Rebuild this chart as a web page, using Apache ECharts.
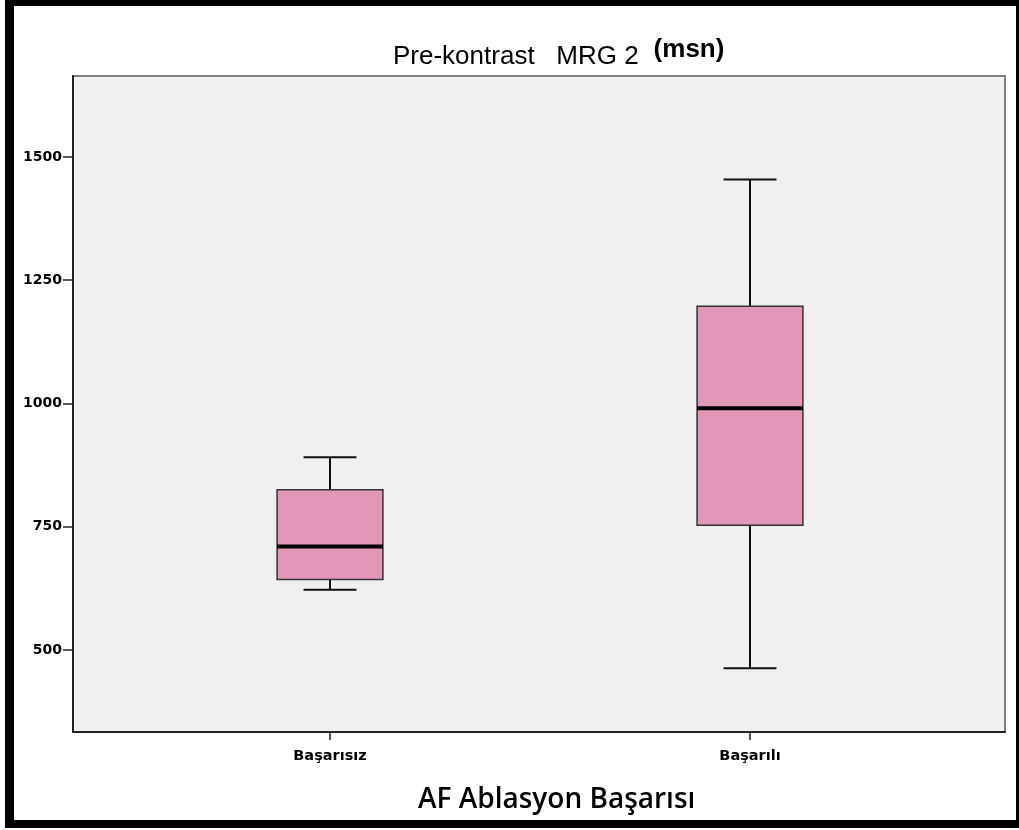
<!DOCTYPE html>
<html>
<head>
<meta charset="utf-8">
<script src="https://cdn.jsdelivr.net/npm/echarts@6/dist/echarts.min.js"></script>
<style>
  html, body { margin: 0; padding: 0; background: #ffffff; }
  #chart { position: absolute; left: 0; top: 0; width: 1019px; height: 830px; }
  #frame { position: absolute; left: 5px; top: 0; width: 1002px; height: 814px;
           border-style: solid; border-color: #000;
           border-width: 6px 3px 8px 9px; pointer-events: none; }
</style>
</head>
<body>
<div id="chart"></div>
<div id="frame"></div>
<script>
// ---- data ----
const categories = ['Başarısız', 'Başarılı'];
const minVals    = [622, 463];
const q1Vals     = [643, 753];
const medianVals = [710, 990];
const q3Vals     = [825, 1197];
const maxVals    = [891, 1454];
const yTickValues = [500, 750, 1000, 1250, 1500];
const chartTitle = 'Pre-kontrast   MRG 2';
const titleUnit = '(msn)';
const xAxisTitle = 'AF Ablasyon Başarısı';
const yMin = 333.7;
const yMax = 1664;

const seriesData = categories.map((c, i) => [i, minVals[i], q1Vals[i], medianVals[i], q3Vals[i], maxVals[i]]);

function renderBox(params, api) {
  const x = api.value(0);
  const pMin = api.coord([x, api.value(1)]);
  const pQ1 = api.coord([x, api.value(2)]);
  const pMed = api.coord([x, api.value(3)]);
  const pQ3 = api.coord([x, api.value(4)]);
  const pMax = api.coord([x, api.value(5)]);
  const band = api.size([1, 0])[0];
  const bw = band * 0.252;
  const cw = bw / 2;
  const cx = pMed[0];
  const lineStyle = { stroke: '#111', lineWidth: 2 };
  return {
    type: 'group',
    children: [
      { type: 'line', shape: { x1: cx, y1: pMax[1], x2: cx, y2: pQ3[1] }, style: lineStyle },
      { type: 'line', shape: { x1: cx, y1: pQ1[1], x2: cx, y2: pMin[1] }, style: lineStyle },
      { type: 'line', shape: { x1: cx - cw / 2, y1: pMax[1], x2: cx + cw / 2, y2: pMax[1] }, style: lineStyle },
      { type: 'line', shape: { x1: cx - cw / 2, y1: pMin[1], x2: cx + cw / 2, y2: pMin[1] }, style: lineStyle },
      { type: 'rect', shape: { x: cx - bw / 2, y: pQ3[1], width: bw, height: pQ1[1] - pQ3[1] },
        style: { fill: '#e296b8', stroke: '#333', lineWidth: 1.5 } },
      { type: 'line', shape: { x1: cx - bw / 2, y1: pMed[1], x2: cx + bw / 2, y2: pMed[1] },
        style: { stroke: '#000', lineWidth: 4 } }
    ]
  };
}

const chart = echarts.init(document.getElementById('chart'), null, { renderer: 'canvas' });
chart.setOption({
  backgroundColor: '#ffffff',
  animation: false,
  title: [
    {
      text: '{a|' + chartTitle + '}   {b|' + titleUnit + '}',
      left: 388, top: 31,
      textStyle: {
        rich: {
          a: { fontFamily: '"Liberation Sans Narrow", "Liberation Sans", Arial, sans-serif', fontSize: 26, color: '#000', fontWeight: 'normal', padding: [8, 0, 0, 0] },
          b: { fontFamily: '"Liberation Sans", Arial, sans-serif', fontSize: 26, color: '#000', fontWeight: 'bold', padding: [0, 0, 6, 0] }
        }
      }
    },
    {
      text: xAxisTitle,
      left: 413, top: 781,
      textStyle: { fontFamily: 'Open Sans, sans-serif', fontSize: 28, fontWeight: 600, color: '#000' }
    }
  ],
  grid: [
    { left: 73, right: 14, top: 76, bottom: 98, show: true, backgroundColor: '#f0f0f0', borderColor: '#808080', borderWidth: 2 },
    { left: 120, right: 59, top: 76, bottom: 98 }
  ],
  xAxis: [
    {
      type: 'value', gridIndex: 0, min: 0, max: 1,
      axisLine: { show: true, lineStyle: { color: '#222', width: 2 } },
      axisTick: { show: false }, axisLabel: { show: false }, splitLine: { show: false }
    },
    {
      type: 'category', gridIndex: 1, data: categories,
      axisLine: { show: false },
      axisTick: { show: true, alignWithLabel: true, length: 8, lineStyle: { color: '#222', width: 1.5 } },
      axisLabel: { margin: 17, fontFamily: '"DejaVu Sans", sans-serif', fontSize: 14.5, fontWeight: 'bold', color: '#000' },
      splitLine: { show: false }
    }
  ],
  yAxis: [
    {
      type: 'value', gridIndex: 0, min: yMin, max: yMax,
      axisLine: { show: true, lineStyle: { color: '#222', width: 2 } },
      axisTick: { show: true, length: 10, customValues: yTickValues, lineStyle: { color: '#222', width: 1.5 } },
      axisLabel: { margin: 11, customValues: yTickValues, formatter: (v) => String(v),
        fontFamily: '"DejaVu Sans", sans-serif', fontSize: 14, fontWeight: 'bold', color: '#000' },
      splitLine: { show: false }
    },
    {
      type: 'value', gridIndex: 1, min: yMin, max: yMax, show: false,
      splitLine: { show: false }
    }
  ],
  series: [
    {
      type: 'custom', xAxisIndex: 1, yAxisIndex: 1,
      renderItem: renderBox,
      encode: { x: 0, y: [1, 2, 3, 4, 5] },
      data: seriesData
    }
  ]
});
</script>
</body>
</html>
